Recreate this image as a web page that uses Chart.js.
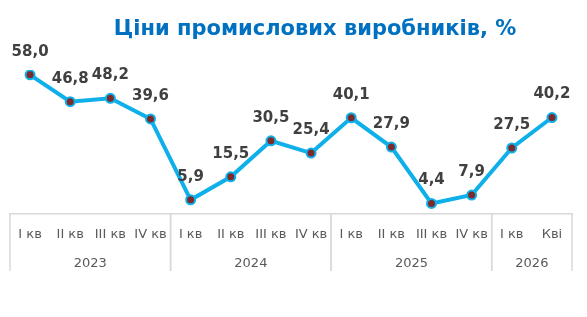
<!DOCTYPE html>
<html>
<head>
<meta charset="utf-8">
<script src="https://cdn.jsdelivr.net/npm/chart.js@4"></script>
<style>
  body { margin: 0; background: #fff; }
</style>
</head>
<body>
<canvas id="chart" width="587" height="317"></canvas>
<script>
// chart data
const quarters = ["I кв", "II кв", "III кв", "IV кв", "I кв", "II кв", "III кв", "IV кв",
                  "I кв", "II кв", "III кв", "IV кв", "I кв", "Кві"];
const prices = [58.0, 46.8, 48.2, 39.6, 5.9, 15.5, 30.5, 25.4, 40.1, 27.9, 4.4, 7.9, 27.5, 40.2];
const years = ["2023", "2024", "2025", "2026"];
const yearSizes = [4, 4, 4, 2];

const gridColor = "#D9D9D9";

// title, offset like the original
const titlePlugin = {
  id: "titlePlugin",
  afterDraw(chart) {
    const ctx = chart.ctx;
    ctx.save();
    ctx.font = "bold 21px 'DejaVu Sans'";
    ctx.fillStyle = "#0070C0";
    ctx.textAlign = "center";
    ctx.textBaseline = "middle";
    ctx.fillText("Ціни промислових виробників, %", 315, 30);
    ctx.restore();
  }
};

// value labels above points
const valueLabels = {
  id: "valueLabels",
  afterDatasetsDraw(chart) {
    const ctx = chart.ctx;
    const meta = chart.getDatasetMeta(0);
    ctx.save();
    ctx.font = "bold 15px 'DejaVu Sans'";
    ctx.fillStyle = "#404040";
    ctx.textAlign = "center";
    ctx.textBaseline = "middle";
    meta.data.forEach((pt, i) => {
      ctx.fillText(prices[i].toFixed(1).replace(".", ","), pt.x, pt.y - 23);
    });
    ctx.restore();
  }
};

// year groups under the quarter labels
const yearGroups = {
  id: "yearGroups",
  afterDraw(chart) {
    const ctx = chart.ctx;
    const x = chart.scales.x;
    const top = chart.chartArea.bottom;
    const half = (x.getPixelForValue(1) - x.getPixelForValue(0)) / 2;
    ctx.save();
    ctx.strokeStyle = gridColor;
    ctx.lineWidth = 1.5;
    ctx.font = "13px 'DejaVu Sans'";
    ctx.fillStyle = "#595959";
    ctx.textAlign = "center";
    ctx.textBaseline = "middle";
    let start = 0;
    years.forEach((yr, g) => {
      const end = start + yearSizes[g] - 1;
      const left = x.getPixelForValue(start) - half;
      const right = x.getPixelForValue(end) + half;
      ctx.beginPath();
      ctx.moveTo(left, top);
      ctx.lineTo(left, top + 57);
      ctx.moveTo(right, top);
      ctx.lineTo(right, top + 57);
      ctx.stroke();
      ctx.fillText(yr, (left + right) / 2, top + 50);
      start = end + 1;
    });
    ctx.restore();
  }
};

new Chart(document.getElementById("chart"), {
  type: "line",
  data: {
    labels: quarters,
    datasets: [{
      data: prices,
      borderColor: "#0FB0EA",
      borderWidth: 4,
      pointRadius: 4.5,
      pointBorderWidth: 2,
      pointBackgroundColor: "#7B2B2B",
      pointBorderColor: "#0FB0EA",
      tension: 0
    }]
  },
  options: {
    responsive: false,
    animation: false,
    layout: { padding: { left: 10, right: 15, top: 70, bottom: 0 } },
    plugins: {
      legend: { display: false },
      tooltip: { enabled: false }
    },
    scales: {
      x: {
        offset: true,
        grid: { display: false, drawTicks: false },
        border: { display: true, color: gridColor, width: 1.5 },
        ticks: {
          padding: 13,
          maxRotation: 0,
          autoSkip: false,
          color: "#595959",
          font: { family: "'DejaVu Sans'", size: 13 }
        },
        afterFit(scale) { scale.height = 103; }
      },
      y: {
        display: false,
        min: 0,
        max: 60
      }
    }
  },
  plugins: [titlePlugin, valueLabels, yearGroups]
});
</script>
</body>
</html>
